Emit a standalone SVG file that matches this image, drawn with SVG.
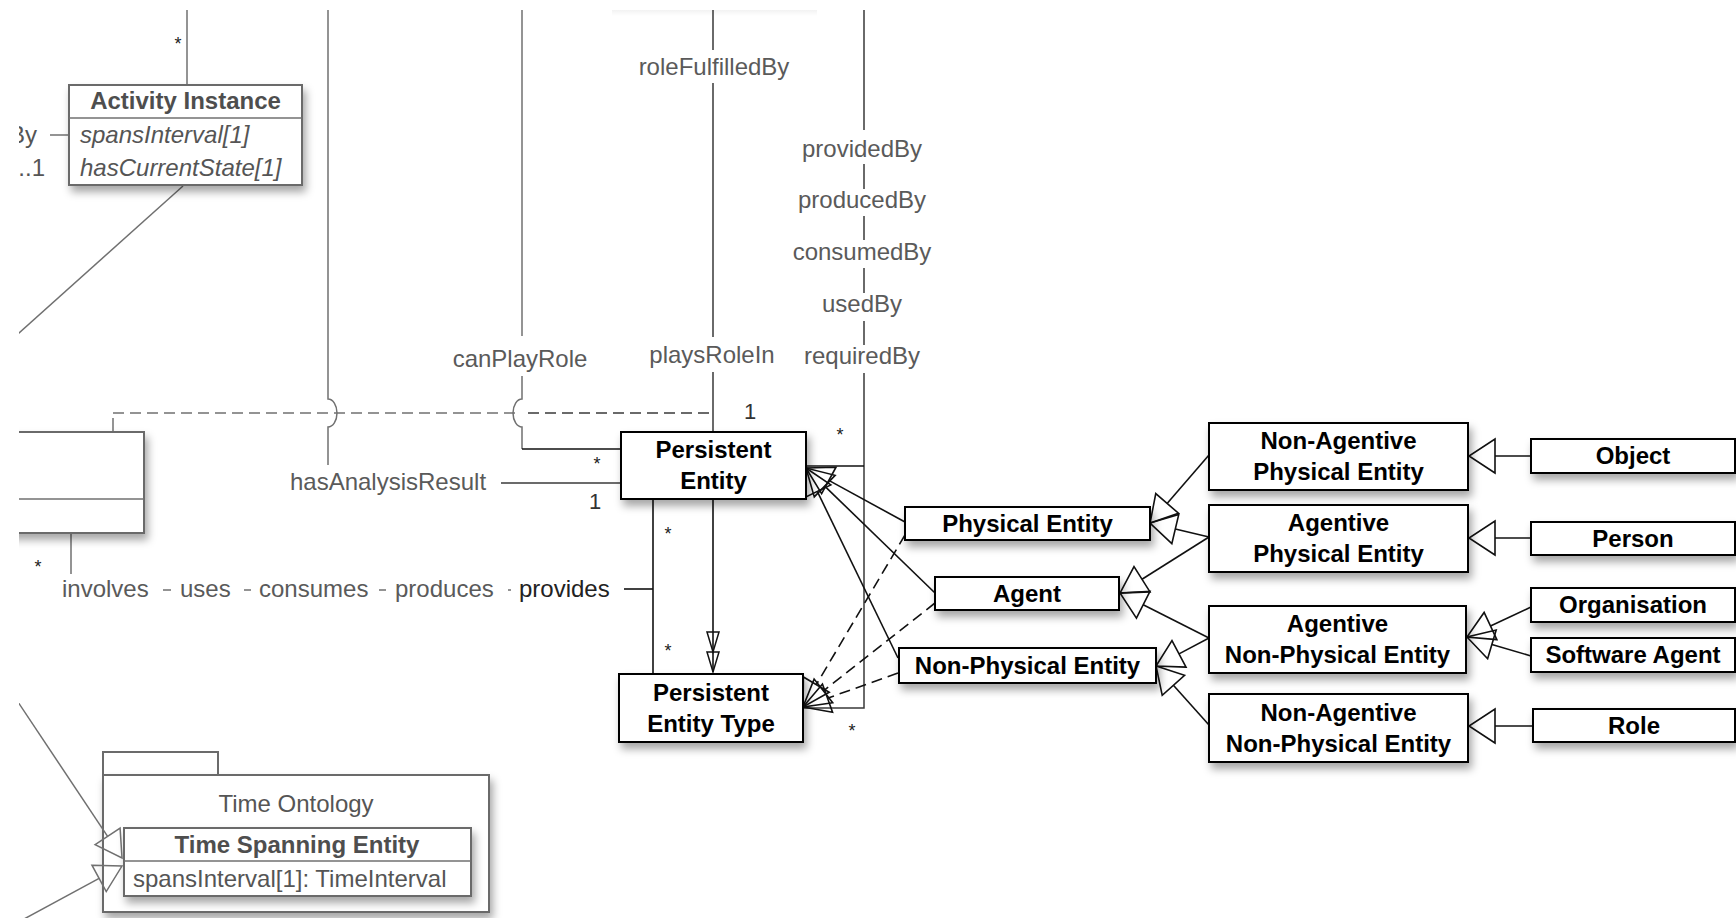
<svg xmlns="http://www.w3.org/2000/svg" width="1736" height="918" viewBox="0 0 1736 918">
  <style>
    text { font-family: "Liberation Sans", Arial, Helvetica, sans-serif; font-size: 24px; }
    .box { fill: #fff; stroke: #000; stroke-width: 2; }
    .gbox { fill: #fff; stroke: #6b6b6b; stroke-width: 2; }
    .nt { font-weight: bold; fill: #000; text-anchor: middle; }
    .gt { font-weight: bold; fill: #4e4e4e; text-anchor: middle; }
    .attr { fill: #555; }
    .lbl { fill: #5a5a5a; text-anchor: middle; }
    .mult { fill: #333; text-anchor: middle; font-size: 22px; }
    .star { fill: #222; text-anchor: middle; font-size: 18px; }
    .ln { stroke: #111; stroke-width: 1.6; fill: none; }
    .mln { stroke: #3a3a3a; stroke-width: 1.5; fill: none; }
    .gln { stroke: #707070; stroke-width: 1.5; fill: none; }
    .dash { stroke-dasharray: 11 6; }
    .gen { marker-end: url(#gen); }
    .genL { marker-end: url(#genL); }
    .genG { marker-end: url(#genG); }
  </style>
  <defs>
    <filter id="sh" x="-15%" y="-30%" width="140%" height="180%">
      <feDropShadow dx="3" dy="6" stdDeviation="4" flood-color="#000" flood-opacity="0.35"/>
    </filter>
    <linearGradient id="topShade" x1="0" y1="0" x2="0" y2="1">
      <stop offset="0" stop-color="#000" stop-opacity="0.05"/>
      <stop offset="1" stop-color="#000" stop-opacity="0"/>
    </linearGradient>
    <!-- hollow generalization triangles; the path ends at the triangle base -->
    <marker id="gen" markerUnits="userSpaceOnUse" viewBox="0 0 30 36" markerWidth="30" markerHeight="36" refX="0" refY="18" orient="auto" overflow="visible">
      <path d="M0,3 L26,18 L0,33 Z" fill="none" stroke="#111" stroke-width="1.6" stroke-dasharray="none"/>
    </marker>
    <marker id="genL" markerUnits="userSpaceOnUse" viewBox="0 0 30 36" markerWidth="30" markerHeight="36" refX="0" refY="18" orient="auto" overflow="visible">
      <path d="M0,1 L26,18 L0,35 Z" fill="none" stroke="#111" stroke-width="1.6"/>
    </marker>
    <marker id="genG" markerUnits="userSpaceOnUse" viewBox="0 0 30 36" markerWidth="30" markerHeight="36" refX="0" refY="18" orient="auto" overflow="visible">
      <path d="M0,3 L26,18 L0,33 Z" fill="none" stroke="#707070" stroke-width="1.5"/>
    </marker>
    <clipPath id="frame">
      <rect x="19" y="10" width="1717" height="908"/>
    </clipPath>
  </defs>

  <rect x="0" y="0" width="1736" height="918" fill="#fff"/>

  <g clip-path="url(#frame)">
    <rect x="612" y="10" width="205" height="6" fill="url(#topShade)"/>

    <!-- package drawn first so the generalization arrows lie over its frame -->
    <g id="time-ontology">
      <rect class="gbox" x="103" y="752" width="115" height="23"/>
      <rect class="gbox" x="103" y="775" width="386" height="137" filter="url(#sh)"/>
      <text x="296" y="812" fill="#555" text-anchor="middle">Time Ontology</text>
      <g id="time-spanning-entity">
        <rect class="gbox" x="124" y="828" width="347" height="68" filter="url(#sh)"/>
        <path class="gln" d="M124,861 H471"/>
        <text class="gt" x="297" y="853">Time Spanning Entity</text>
        <text class="attr" x="133" y="887">spansInterval[1]: TimeInterval</text>
      </g>
    </g>

    <g id="connectors">
      <!-- Activity Instance links -->
      <path class="gln" d="M187,0 V85"/>
      <path class="gln" d="M50,135 H69"/>
      <path class="gln" d="M183,186 L0,350"/>

      <!-- hasAnalysisResult, jumping the dashed line -->
      <path class="gln" d="M328,0 V399 A9 14 0 0 1 328 427 V465"/>
      <path class="mln" d="M501,483 H621"/>

      <!-- canPlayRole, jumping the dashed line -->
      <path class="gln" d="M522,0 V336"/>
      <path class="gln" d="M522,376 V399 A9 14 0 0 0 522 427 V449"/>
      <path class="ln" d="M522,449 H621"/>

      <!-- association-class link -->
      <path class="gln" d="M113,418 V432"/>
      <path class="gln dash" d="M113,413 H516"/>
      <path class="mln dash" d="M528,413 H713"/>

      <!-- roleFulfilledBy / playsRoleIn -->
      <path class="mln" d="M713,0 V50 M713,83 V337 M713,372 V432"/>

      <!-- providedBy ... requiredBy -->
      <path class="mln" d="M864,0 V130 M864,164 V189 M864,216 V240 M864,268 V293 M864,321 V345 M864,373 V708 H803"/>
      <path class="ln" d="M806,466 H864"/>

      <!-- involves / uses / consumes / produces / provides -->
      <path class="gln" d="M71,533 V574"/>
      <path class="gln" d="M163,590 H171 M244,590 H251 M379,590 H386 M508,590 H511"/>
      <path class="ln" d="M624,589 H653"/>
      <path class="ln" d="M653,499 V674"/>

      <!-- Persistent Entity to Persistent Entity Type -->
      <path class="ln" d="M713,499 V672"/>
      <polygon points="707,632 719,632 713,652" fill="none" stroke="#111" stroke-width="1.5"/>
      <polygon points="707,652 719,652 713,672" fill="none" stroke="#111" stroke-width="1.5"/>

      <!-- generalizations to Persistent Entity -->
      <path class="ln gen" d="M905,522 L828.8,480.4"/>
      <path class="ln gen" d="M935,593 L824.7,486.1"/>
      <path class="ln gen" d="M898,658 L817.3,491.4"/>

      <!-- instance-of links to Persistent Entity Type -->
      <path class="ln dash gen" d="M905,535 L816.3,684.6"/>
      <path class="ln dash gen" d="M935,603 L823.4,690.9"/>
      <path class="ln dash gen" d="M898,673 L827.5,698.2"/>

      <!-- second level -->
      <path class="ln gen" d="M1209,455 L1167.1,503.4"/>
      <path class="ln gen" d="M1209,537 L1175.3,529"/>
      <path class="ln gen" d="M1209,537 L1142,579.2"/>
      <path class="ln gen" d="M1209,638 L1143.2,604.7"/>
      <path class="ln gen" d="M1209,638 L1179,653.9"/>
      <path class="ln gen" d="M1209,725 L1173.4,685.3"/>

      <!-- leaf classes -->
      <path class="ln genL" d="M1531,456 H1495"/>
      <path class="ln genL" d="M1531,538 H1495"/>
      <path class="ln gen" d="M1531,607 L1490.5,626"/>
      <path class="ln gen" d="M1531,656 L1491.9,644.4"/>
      <path class="ln genL" d="M1533,726 H1495"/>

      <!-- Time Spanning Entity generalizations -->
      <path class="gln genG" d="M0,675 L107.6,836.4"/>
      <path class="gln genG" d="M0,932 L99.1,878.4"/>
    </g>

    <g id="labels">
      <text class="lbl" x="714" y="75">roleFulfilledBy</text>
      <text class="lbl" x="862" y="157">providedBy</text>
      <text class="lbl" x="862" y="208">producedBy</text>
      <text class="lbl" x="862" y="260">consumedBy</text>
      <text class="lbl" x="862" y="312">usedBy</text>
      <text class="lbl" x="862" y="364">requiredBy</text>
      <text class="lbl" x="712" y="363">playsRoleIn</text>
      <text class="lbl" x="520" y="367">canPlayRole</text>
      <text class="lbl" x="388" y="490">hasAnalysisResult</text>
      <text x="62" y="597" fill="#5a5a5a">involves</text>
      <text x="180" y="597" fill="#5a5a5a">uses</text>
      <text x="259" y="597" fill="#5a5a5a">consumes</text>
      <text x="395" y="597" fill="#5a5a5a">produces</text>
      <text x="519" y="597" fill="#222">provides</text>
      <text x="37" y="143" fill="#555" text-anchor="end">By</text>
      <text x="45" y="176" fill="#555" text-anchor="end">0..1</text>
    </g>

    <g id="multiplicities">
      <text class="star" x="178" y="50">*</text>
      <text class="star" x="38" y="573">*</text>
      <text class="star" x="597" y="470">*</text>
      <text class="star" x="840" y="441">*</text>
      <text class="star" x="668" y="540">*</text>
      <text class="star" x="668" y="657">*</text>
      <text class="star" x="852" y="737">*</text>
      <text class="mult" x="750" y="419">1</text>
      <text class="mult" x="595" y="509">1</text>
    </g>

    <g id="activity-instance">
      <rect class="gbox" x="69" y="85" width="233" height="100" filter="url(#sh)"/>
      <path class="gln" d="M69,118 H302"/>
      <text class="gt" x="185.5" y="109">Activity Instance</text>
      <text class="attr" x="80" y="143" font-style="italic">spansInterval[1]</text>
      <text class="attr" x="80" y="176" font-style="italic">hasCurrentState[1]</text>
    </g>

    <g id="analysis-class">
      <rect class="gbox" x="-10" y="432" width="154" height="101" filter="url(#sh)"/>
      <path class="gln" d="M0,499 H144"/>
    </g>

    <g id="persistent-entity">
      <rect class="box" x="621" y="432" width="185" height="67" filter="url(#sh)"/>
      <text class="nt" x="713.5" y="458">Persistent</text>
      <text class="nt" x="713.5" y="489">Entity</text>
    </g>
    <g id="persistent-entity-type">
      <rect class="box" x="619" y="674" width="184" height="68" filter="url(#sh)"/>
      <text class="nt" x="711" y="701">Persistent</text>
      <text class="nt" x="711" y="732">Entity Type</text>
    </g>

    <g id="physical-entity">
      <rect class="box" x="905" y="507" width="245" height="33" filter="url(#sh)"/>
      <text class="nt" x="1027.5" y="532">Physical Entity</text>
    </g>
    <g id="agent">
      <rect class="box" x="935" y="577" width="184" height="33" filter="url(#sh)"/>
      <text class="nt" x="1027" y="602">Agent</text>
    </g>
    <g id="non-physical-entity">
      <rect class="box" x="899" y="648" width="257" height="35" filter="url(#sh)"/>
      <text class="nt" x="1027.5" y="674">Non-Physical Entity</text>
    </g>

    <g id="non-agentive-physical-entity">
      <rect class="box" x="1209" y="423" width="259" height="67" filter="url(#sh)"/>
      <text class="nt" x="1338.5" y="449">Non-Agentive</text>
      <text class="nt" x="1338.5" y="480">Physical Entity</text>
    </g>
    <g id="agentive-physical-entity">
      <rect class="box" x="1209" y="505" width="259" height="67" filter="url(#sh)"/>
      <text class="nt" x="1338.5" y="531">Agentive</text>
      <text class="nt" x="1338.5" y="562">Physical Entity</text>
    </g>
    <g id="agentive-non-physical-entity">
      <rect class="box" x="1209" y="606" width="257" height="67" filter="url(#sh)"/>
      <text class="nt" x="1337.5" y="632">Agentive</text>
      <text class="nt" x="1337.5" y="663">Non-Physical Entity</text>
    </g>
    <g id="non-agentive-non-physical-entity">
      <rect class="box" x="1209" y="694" width="259" height="68" filter="url(#sh)"/>
      <text class="nt" x="1338.5" y="721">Non-Agentive</text>
      <text class="nt" x="1338.5" y="752">Non-Physical Entity</text>
    </g>

    <g id="object">
      <rect class="box" x="1531" y="439" width="204" height="34" filter="url(#sh)"/>
      <text class="nt" x="1633" y="464">Object</text>
    </g>
    <g id="person">
      <rect class="box" x="1531" y="522" width="204" height="33" filter="url(#sh)"/>
      <text class="nt" x="1633" y="547">Person</text>
    </g>
    <g id="organisation">
      <rect class="box" x="1531" y="588" width="204" height="34" filter="url(#sh)"/>
      <text class="nt" x="1633" y="613">Organisation</text>
    </g>
    <g id="software-agent">
      <rect class="box" x="1531" y="638" width="204" height="34" filter="url(#sh)"/>
      <text class="nt" x="1633" y="663">Software Agent</text>
    </g>
    <g id="role">
      <rect class="box" x="1533" y="709" width="202" height="33" filter="url(#sh)"/>
      <text class="nt" x="1634" y="734">Role</text>
    </g>
  </g>
</svg>
